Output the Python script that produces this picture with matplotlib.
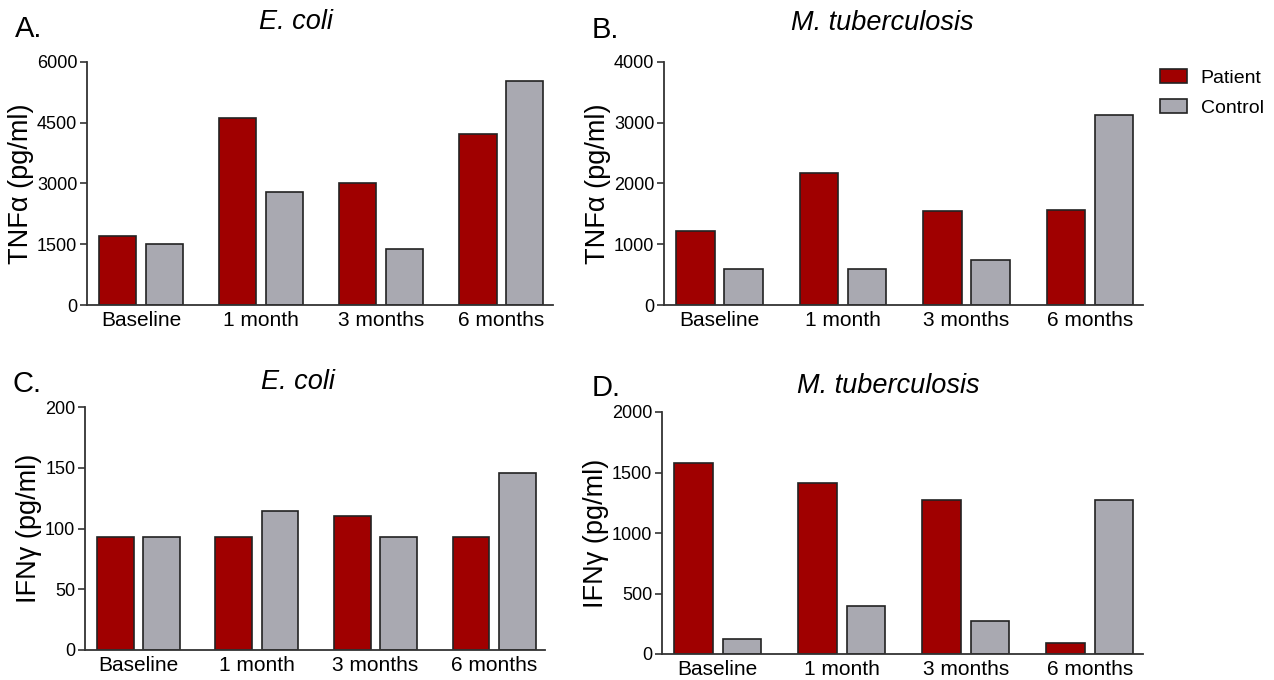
import numpy as np
import matplotlib.pyplot as plt

plt.rcParams['font.family'] = ['Liberation Sans', 'DejaVu Sans']

groups = ["Baseline", "1 month", "3 months", "6 months"]

# TNF-alpha, E. coli
tnf_ecoli_patient = [1700, 4620, 3000, 4230]
tnf_ecoli_control = [1500, 2800, 1380, 5520]
# TNF-alpha, M. tuberculosis
tnf_mtb_patient = [1220, 2180, 1550, 1570]
tnf_mtb_control = [600, 600, 740, 3130]
# IFN-gamma, E. coli
ifn_ecoli_patient = [93, 93, 110, 93]
ifn_ecoli_control = [93, 114, 93, 146]
# IFN-gamma, M. tuberculosis
ifn_mtb_patient = [1575, 1410, 1270, 90]
ifn_mtb_control = [120, 400, 270, 1270]

patient_color = '#a00000'
control_color = '#a9a9b1'

fig = plt.figure(figsize=(12.74, 6.8), dpi=100)

# axes boxes in figure fractions (left, bottom, width, height)
W, H = 1274, 680
def box(x0, x1, ytop, ybot):
    return [x0 / W, 1 - ybot / H, (x1 - x0) / W, (ybot - ytop) / H]

panels = [
    (box(87, 553, 62, 305), tnf_ecoli_patient, tnf_ecoli_control, 6000, 1500, "TNF\u03b1 (pg/ml)", "E. coli", "A."),
    (box(664, 1143, 62, 305), tnf_mtb_patient, tnf_mtb_control, 4000, 1000, "TNF\u03b1 (pg/ml)", "M. tuberculosis", "B."),
    (box(85, 545, 407, 650), ifn_ecoli_patient, ifn_ecoli_control, 200, 50, "IFN\u03b3 (pg/ml)", "E. coli", "C."),
    (box(662, 1143, 412, 654), ifn_mtb_patient, ifn_mtb_control, 2000, 500, "IFN\u03b3 (pg/ml)", "M. tuberculosis", "D."),
]

x = np.arange(len(groups))
bw = 0.31
off = 0.195

title_pos = [(296, 22), (882, 23), (298, 382), (888, 386)]
letter_pos = [(15, 29), (592, 30), (13, 384), (592, 388)]

for i, (rect, pat, ctl, ymax, step, ylab, title, letter) in enumerate(panels):
    ax = fig.add_axes(rect)
    ax.bar(x - off, pat, bw, color=patient_color, edgecolor='#222222', linewidth=1.2, label='Patient')
    ax.bar(x + off, ctl, bw, color=control_color, edgecolor='#222222', linewidth=1.2, label='Control')
    ax.set_xlim(-0.45, 3.43)
    ax.set_ylim(0, ymax)
    ax.set_yticks(np.arange(0, ymax + 1, step))
    ax.set_xticks(x)
    ax.set_xticklabels(groups, fontsize=15)
    ax.tick_params(axis='x', length=0, pad=4)
    ax.tick_params(axis='y', labelsize=13, length=5, width=1.2, color='#333333', pad=2)
    for s in ['top', 'right']:
        ax.spines[s].set_visible(False)
    for s in ['left', 'bottom']:
        ax.spines[s].set_linewidth(1.3)
        ax.spines[s].set_color('#333333')
    ax.set_ylabel(ylab, fontsize=19.5, labelpad=2)
    tx, ty = title_pos[i]
    fig.text(tx / W, 1 - ty / H, title, fontsize=19.5, style='italic',
             ha='center', va='center')
    lx, ly = letter_pos[i]
    fig.text(lx / W, 1 - ly / H, letter, fontsize=21, ha='left', va='center')
    if i == 1:
        handles, labels = ax.get_legend_handles_labels()
        fig.legend(handles, labels, loc='upper left', bbox_to_anchor=(1160 / W, 1 - 69 / H),
                   frameon=False, fontsize=14, handlelength=1.4, handleheight=0.75,
                   handletextpad=0.7, labelspacing=0.62, borderpad=0, borderaxespad=0)

fig.savefig('out.png', dpi=100)
